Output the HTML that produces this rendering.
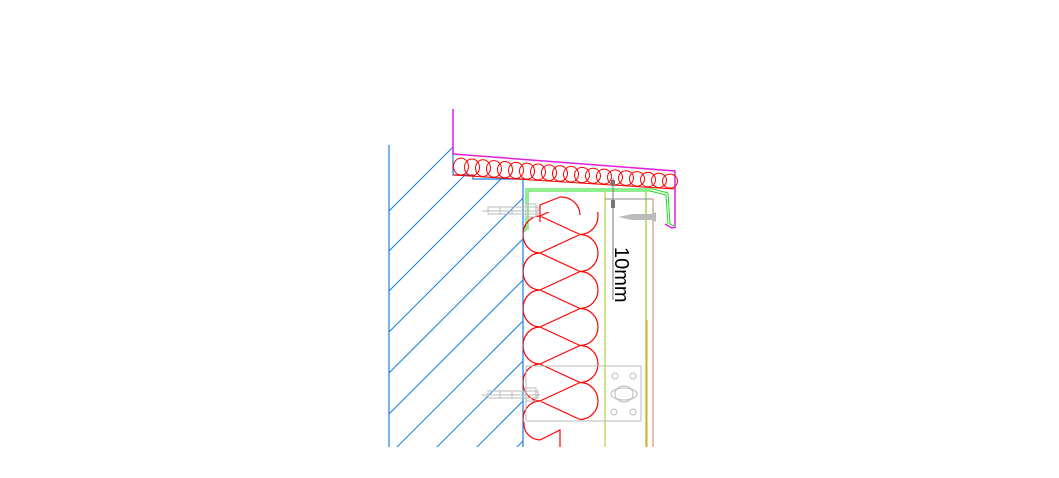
<!DOCTYPE html>
<html><head><meta charset="utf-8"><style>
html,body{margin:0;padding:0;background:#fff;width:1059px;height:478px;overflow:hidden}
svg{display:block}
</style></head><body>
<svg width="1059" height="478" viewBox="0 0 1059 478" xmlns="http://www.w3.org/2000/svg">
<defs>
<clipPath id="wall"><polygon points="389,145 453,145 453,175 473,175 473,179 523,179 523,447 389,447"/></clipPath>
<clipPath id="ins"><rect x="523" y="212" width="80" height="210"/></clipPath>
</defs>
<g clip-path="url(#wall)" stroke="#1a7fe0" stroke-width="1">
<line x1="340" y1="260" x2="520" y2="80"/>
<line x1="340" y1="300" x2="520" y2="120"/>
<line x1="340" y1="340" x2="540" y2="140"/>
<line x1="340" y1="381" x2="560" y2="161"/>
<line x1="340" y1="422" x2="580" y2="182"/>
<line x1="340" y1="463" x2="600" y2="203"/>
<line x1="360" y1="484" x2="620" y2="224"/>
<line x1="400" y1="484" x2="640" y2="244"/>
<line x1="440" y1="484" x2="660" y2="264"/>
<line x1="480" y1="484" x2="680" y2="284"/>
</g>
<g fill="none" stroke="#1a7fe0" stroke-width="1.2">
<line x1="389" y1="145" x2="389" y2="447"/>
<polyline points="453,145 453,175 473,175 473,179 523,179 523,447"/>
</g>
<g fill="none" stroke="#e020e0" stroke-width="1.5">
<line x1="453" y1="109" x2="453" y2="155"/>
<polyline points="453,154 675,171 675,226"/>
<polyline points="665,224 672,228 676,227"/>
</g>
<g fill="none" stroke="#ff0000" stroke-width="1" id="stripg"></g>
<line x1="453" y1="175" x2="675" y2="189" stroke="#ff0000" stroke-width="1"/>
<g fill="none" stroke="#22dd22" stroke-width="1">
<polyline points="523,232 526,230 526,189 653,189 668,193 670,224 674,226"/>
<polyline points="528,230 528,191 650,191 666,195 668,224"/>
</g>
<line x1="605" y1="192" x2="605" y2="447" stroke="#99cc22" stroke-width="1"/>
<line x1="646" y1="192" x2="646" y2="447" stroke="#99cc22" stroke-width="1.2"/>
<line x1="647" y1="320" x2="647" y2="447" stroke="#ff8800" stroke-width="0.8"/>
<polyline points="608,199 653,199 653,447" fill="none" stroke="#c08070" stroke-width="1"/>
<line x1="605" y1="199" x2="650" y2="199" stroke="#888" stroke-width="1"/>
<line x1="613" y1="178" x2="613" y2="300" stroke="#777" stroke-width="1"/>
<rect x="611" y="180" width="4" height="6" fill="#777"/>
<rect x="611" y="200" width="4" height="8" fill="#777"/>
<text x="0" y="0" transform="translate(615,247) rotate(90)" font-family="Liberation Sans, sans-serif" font-size="20" fill="#000">10mm</text>
<g clip-path="url(#ins)" fill="none" stroke="#ff0000" stroke-width="1.2" id="loops"></g>
<g fill="none" stroke="#ff0000" stroke-width="1.2">
<polyline points="540,222 540,205 560,197"/>
<path d="M560,197 A19,18 0 0 1 580,215"/>
<path d="M524,422 A17,16 0 0 0 540,440"/>
<polyline points="540,440 560,430 560,447"/>
</g>
<g fill="none" stroke="#bbb" stroke-width="1">
<rect x="526" y="366" width="115" height="55"/>
<circle cx="615" cy="376" r="3"/><circle cx="633" cy="376" r="3"/>
<circle cx="614" cy="412" r="3"/><circle cx="633" cy="412" r="3"/>
<ellipse cx="624" cy="394" rx="9" ry="8"/><ellipse cx="624" cy="394" rx="13" ry="6"/>
</g>
<g fill="none" stroke="#bbb" stroke-width="1">
<rect x="488" y="207" width="50" height="7"/><line x1="482" y1="211" x2="540" y2="211"/><line x1="500" y1="207" x2="500" y2="214"/><line x1="512" y1="207" x2="512" y2="214"/><rect x="526" y="204" width="10" height="13"/>
<rect x="488" y="391" width="50" height="7"/><line x1="482" y1="395" x2="540" y2="395"/><line x1="500" y1="391" x2="500" y2="398"/><line x1="512" y1="391" x2="512" y2="398"/><rect x="526" y="388" width="10" height="13"/>
</g>
<g fill="#bbb"><path d="M618,217 L632,214 L652,214 L656,212 L656,222 L652,220 L632,220 Z"/></g>
<script>
var ns="http://www.w3.org/2000/svg";
var g=document.getElementById('loops');
function p(d,t){var e=document.createElementNS(ns,'path');e.setAttribute('d',d);t.appendChild(e);}
var d='';
for(var k=0;k<6;k++){
 var ly=216+37*k, ry=197.5+37*k;
 d+='M540,'+ly+' L580,'+ry+' M540,'+ly+' L580,'+(ry+37)+' ';
 d+='M540,'+ly+' A17,18.5 0 0 0 540,'+(ly+37)+' ';
 d+='M580,'+ry+' A18,18.5 0 0 1 580,'+(ry+37)+' ';
}
p(d,g);
var s=document.getElementById('stripg');
for(var x=455;x<668;x+=11){
 var cx=x+6, yt=155+(cx-453)*17/222, yb=175+(cx-453)*14/222, cy=(yt+yb)/2+1, h=(yb-yt)/2-1.5;
 var e=document.createElementNS(ns,'ellipse');
 e.setAttribute('cx',cx);e.setAttribute('cy',cy);e.setAttribute('rx',7.5);e.setAttribute('ry',h);
 s.appendChild(e);
}
</script>
</svg>
</body></html>
